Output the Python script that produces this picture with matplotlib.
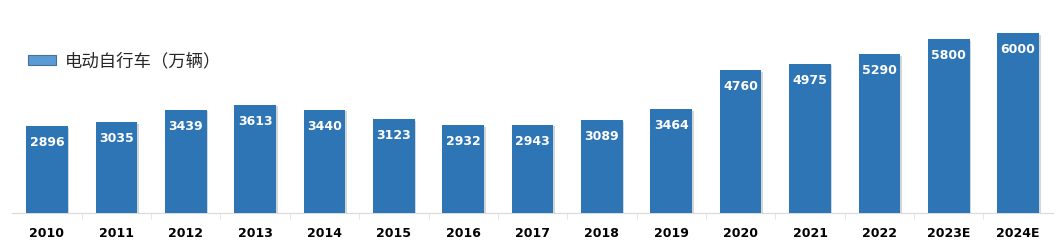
import matplotlib
matplotlib.use("Agg")
import matplotlib.pyplot as plt
import matplotlib.patheffects as pe
from matplotlib.patches import Patch

years = ["2010", "2011", "2012", "2013", "2014", "2015", "2016", "2017",
         "2018", "2019", "2020", "2021", "2022", "2023E", "2024E"]
values = [2896, 3035, 3439, 3613, 3440, 3123, 2932, 2943,
          3089, 3464, 4760, 4975, 5290, 5800, 6000]
legend_label = "电动自行车（万辆）"

plt.rcParams["font.family"] = ["Noto Sans CJK SC", "DejaVu Sans"]

fig = plt.figure(figsize=(10.58, 2.48), dpi=100)
ax = fig.add_axes([12.3 / 1058, 35 / 248, 1040.5 / 1058, 210 / 248])

x = list(range(len(years)))
bars = ax.bar(x, values, width=0.6, color="#2e75b6", zorder=3)
for b in bars:
    b.set_path_effects([pe.SimplePatchShadow(offset=(1.2, -1.2), alpha=0.18), pe.Normal()])

for xi, v in zip(x, values):
    ax.annotate(str(v), (xi, v), xytext=(0, -12), textcoords="offset points",
                ha="center", va="center", color="white", fontsize=9,
                fontweight="bold", family=["DejaVu Sans"])

ax.set_xlim(-0.5, len(years) - 0.5)
ax.set_ylim(0, 7000)
ax.set_yticks([])
ax.set_xticks(x)
ax.set_xticklabels(years, fontsize=9, fontweight="bold", family=["DejaVu Sans"])
ax.tick_params(axis="x", length=0, pad=10)
ax.set_xticks([i + 0.5 for i in x[:-1]], minor=True)
ax.tick_params(axis="x", which="minor", length=4, color="#e0e0e0", direction="out")
for s in ["top", "right", "left"]:
    ax.spines[s].set_visible(False)
ax.spines["bottom"].set_color("#d9d9d9")

handle = Patch(facecolor="#5b9bd5", edgecolor="#41719c", linewidth=0.8)
ax.legend([handle], [legend_label], loc="upper left", bbox_to_anchor=(0.0, 0.84),
          frameon=False, handlelength=1.6, handleheight=0.45, handletextpad=0.5,
          prop={"family": ["Noto Sans CJK SC"], "size": 12.5, "weight": "light"},
          labelcolor="#262626")

fig.savefig("out.png", dpi=100)
